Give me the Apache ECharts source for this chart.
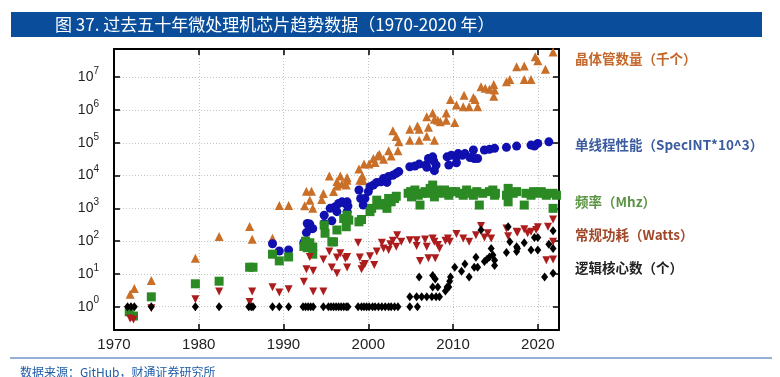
<!DOCTYPE html>
<html><head><meta charset="utf-8">
<script src="https://cdn.jsdelivr.net/npm/echarts@6/dist/echarts.min.js"></script>
<style>html,body{margin:0;padding:0;background:#fff}#c{width:780px;height:377px}</style>
</head><body><div id="c"></div>
<script>
// ---- Data (x = year, y = value, log scale) ----
const transYears = [1971.9,1972.4,1974.4,1979.6,1982.4,1986.0,1986.3,1988.7,1989.5,1990.6,1992.5,1992.7,1993.1,1993.3,1993.45,1994.5,1994.7,1995.4,1995.9,1996.3,1996.3,1996.7,1996.9,1997.4,1997.5,1997.5,1998.9,1999.0,1999.3,1999.4,1999.5,2000.1,2000.6,2000.8,2001.1,2001.3,2001.8,2002.4,2002.7,2002.9,2003.3,2003.5,2003.6,2004.9,2004.9,2005.8,2006.0,2006.0,2006.9,2006.9,2007.1,2007.6,2007.8,2007.8,2008.2,2008.5,2009.2,2009.2,2009.7,2010.2,2010.4,2011.2,2011.3,2011.9,2012.4,2012.6,2012.9,2013.3,2013.8,2014.3,2014.8,2014.8,2014.9,2016.3,2016.7,2017.5,2018.4,2018.4,2019.2,2019.7,2020.0,2020.9,2021.8];
const transVals = [2.4,3.6,6.3,30,138,282,115,123,1230,1230,1200,3310,1780,3310,1000,1860,2820,9770,3240,4790,6610,9770,5500,5130,7240,8710,15800,7240,9770,6920,22400,22400,33100,25100,39800,44700,31600,57500,39800,234000,155000,57500,107000,257000,120000,324000,257000,120000,617000,158000,295000,813000,525000,120000,490000,437000,813000,490000,2090000,417000,1410000,1260000,2820000,1260000,2400000,2090000,1260000,5130000,4570000,4270000,6030000,2630000,4070000,7240000,8510000,20900000,21900000,8510000,8510000,41700000,31600000,17400000,58900000];

const stYears = [1988.7,1989.5,1990.6,1992.4,1992.7,1992.8,1993.0,1993.1,1993.3,1993.45,1994.8,1994.8,1995.5,1995.7,1996.1,1996.3,1996.5,1996.9,1997.3,1997.5,1997.6,1997.5,1998.9,1999.1,1999.4,1999.6,2000.0,2000.2,2000.6,2001.0,2001.5,2001.8,2002.2,2002.4,2002.9,2003.3,2003.6,2004.9,2005.5,2006.0,2006.8,2006.9,2007.1,2007.6,2007.7,2007.8,2008.0,2009.3,2009.5,2009.8,2010.4,2010.4,2010.6,2011.1,2011.4,2012.0,2012.4,2012.5,2012.9,2013.7,2014.3,2014.9,2016.3,2017.5,2019.2,2019.6,2020.0,2021.3];
const stVals = [83,50,54,91,182,347,288,331,245,240,617,347,1000,417,1120,794,1410,1580,1410,1580,1170,794,3630,2000,1260,2000,3240,4570,5130,6170,6460,8130,6170,9330,10200,11700,13200,18600,19500,22400,20900,17800,33100,37200,28200,14100,20900,37200,20900,41700,37200,24500,46800,41700,46800,35500,60300,33100,33100,60300,63100,67600,72400,79400,85100,79400,95500,107000];

const freqYears = [1971.8,1972.3,1974.4,1979.6,1982.4,1986.0,1986.4,1988.7,1989.5,1990.6,1992.4,1992.6,1992.8,1993.1,1993.45,1993.45,1994.8,1994.9,1995.7,1995.9,1996.3,1997.1,1997.4,1997.5,1997.7,1998.9,1999.2,2000.2,2000.4,2001.0,2001.4,2001.8,2002.2,2002.4,2002.7,2003.1,2003.3,2004.7,2005.0,2005.1,2005.5,2005.9,2006.1,2006.3,2006.7,2007.1,2007.3,2007.6,2007.8,2008.0,2008.3,2008.6,2009.0,2009.5,2009.8,2010.3,2010.8,2011.2,2011.6,2012.2,2012.4,2012.8,2013.1,2013.5,2014.3,2014.7,2014.9,2015.0,2016.3,2016.5,2016.5,2017.1,2017.5,2018.4,2018.6,2019.2,2019.5,2019.8,2020.4,2020.8,2021.0,2021.8,2021.8,2022.2];
const freqVals = [0.7,0.52,2,5,6,16,16,40,25,33,69,100,63,89,66,40,309,174,95,95,219,490,275,617,437,389,457,794,1000,1780,1260,1410,1000,2000,1580,2000,2340,2880,3240,2240,3630,2510,1260,2880,3240,2880,4070,5130,2240,3630,3240,2880,3630,2510,3240,3240,2880,2510,3630,2880,2510,3240,1260,2880,3240,3630,2510,2880,2510,4070,1580,2880,3240,1260,2880,2510,3240,2880,3240,2880,2510,2880,1000,2510];

const powerYears = [1971.9,1972.3,1974.4,1979.6,1982.4,1986.0,1986.3,1988.7,1989.5,1990.6,1992.4,1992.7,1993.1,1993.5,1993.5,1994.7,1994.7,1995.4,1995.7,1996.3,1996.3,1996.7,1997.3,1997.5,1997.5,1998.8,1999.0,1999.2,1999.4,1999.6,2000.2,2000.7,2001.0,2001.6,2001.8,2002.4,2002.6,2002.9,2003.3,2003.4,2003.9,2004.9,2005.7,2005.7,2006.1,2006.7,2006.9,2007.1,2007.6,2007.8,2007.9,2008.2,2008.4,2009.1,2009.4,2009.6,2010.4,2011.2,2011.9,2012.7,2013.3,2013.7,2014.1,2014.5,2016.3,2016.5,2017.5,2017.6,2018.4,2018.8,2019.2,2019.8,2020.0,2021.0,2021.2,2021.8,2021.8,2021.8];
const powerVals = [0.44,0.41,0.9,1.7,2.9,1.4,2.9,3.9,2.7,3.4,5.8,13.8,33,12.6,2.9,2.9,27.5,47.9,15.8,10.5,31.6,42.7,29.5,33.1,15.8,89,31.6,13.8,17.4,20,34.7,18.6,47.9,89,60,54,81,102,68,151,95,107,107,71,25,112,68,30,120,95,30,76,60,102,120,95,166,120,95,151,288,129,174,120,245,141,195,182,229,174,195,219,263,26,275,27.5,95,457];

const coreYears = [1971.6,1972.0,1972.4,1974.4,1979.6,1982.4,1985.9,1986.2,1986.4,1988.7,1989.5,1990.6,1992.3,1992.6,1992.9,1993.2,1993.5,1994.7,1995.3,1995.6,1995.9,1996.2,1996.5,1996.8,1997.1,1997.4,1997.6,1998.8,1999.2,1999.5,1999.8,2000.1,2000.5,2000.8,2001.2,2001.6,2002.0,2002.4,2002.7,2003.1,2003.5,2004.9,2005.8,2004.9,2005.7,2006.3,2006.9,2007.5,2008.0,2008.4,2006.0,2007.6,2007.9,2007.6,2008.2,2009.1,2009.3,2009.5,2009.6,2009.7,2010.2,2011.0,2011.4,2011.9,2012.5,2012.9,2012.7,2013.3,2013.7,2014.0,2014.3,2014.5,2014.7,2014.9,2014.9,2016.3,2016.5,2016.7,2017.5,2017.5,2017.6,2018.4,2019.2,2020.0,2019.6,2020.0,2020.8,2021.3,2021.8,2021.8,2021.8];
const coreVals = [1,1,1,1,1,1,1,1,1,1,1,1,1,1,1,1,1,1,1,1,1,1,1,1,1,1,1,1,1,1,1,1,1,1,1,1,1,1,1,1,1,1,1,2,2,2,2,2,2,2,8,9,7,4,4,3,4,4,6,8,16,12,20,8,16,16,32,220,24,28,33,60,38,26,18,45,275,96,68,48,60,89,54,54,129,129,8,81,209,60,10.5];

const xTickLabels = ['1970','1980','1990','2000','2010','2020'];
const seriesNames = ['晶体管数量（千个）','单线程性能（SpecINT*10^3）','频率（Mhz）','常规功耗（Watts）','逻辑核心数（个）'];
const titleText = '图 37. 过去五十年微处理机芯片趋势数据（1970-2020 年）';
const sourceText = '数据来源：GitHub，财通证券研究所';

// ---- Chart ----
const chart = echarts.init(document.getElementById('c'), null, {renderer: 'canvas'});
const zip = (xs, ys) => xs.map((x, i) => [x, ys[i]]);
const yMin = Math.pow(10, -0.71), yMax = Math.pow(10, 7.86);
const frame = {show: true, onZero: false, lineStyle: {color: '#000', width: 2}};
const ticks = {show: true, inside: true, length: 6, lineStyle: {color: '#000', width: 1.5}};
const grid = {show: true, lineStyle: {color: '#c4c4c4', type: [1, 2], width: 1}};
const isPow = v => { const l = Math.log10(v); return Math.abs(l - Math.round(l)) < 1e-6; };

const colors = ['#c96f28', '#1010b0', '#2c8a24', '#ad1c1c', '#000000'];
const labelColors = ['#c4672a', '#3a5b9f', '#5a9444', '#a0492a', '#222222'];
const labelY = [59, 145, 202, 235, 268];

const option = {
  animation: false,
  grid: {left: 114, top: 49, right: 221, bottom: 47},
  xAxis: [
    {type: 'value', min: 1970, max: 2022.5, interval: 10, position: 'bottom',
     axisLine: frame, axisTick: ticks, splitLine: grid,
     axisLabel: {margin: 7, fontSize: 15, color: '#222', fontFamily: 'Liberation Sans',
       formatter: v => xTickLabels.includes(String(v)) ? String(v) : ''}},
    {type: 'value', min: 1970, max: 2022.5, interval: 10, position: 'top',
     axisLine: frame, axisTick: ticks, splitLine: {show: false}, axisLabel: {show: false}}
  ],
  yAxis: [
    {type: 'log', logBase: 10, min: yMin, max: yMax, position: 'left',
     axisLine: frame, axisTick: ticks, splitLine: grid, minorTick: {show: false},
     axisLabel: {margin: 15, color: '#222',
       formatter: v => isPow(v) ? '{b|10}{s|' + Math.round(Math.log10(v)) + '}' : '',
       rich: {b: {fontSize: 14, fontFamily: 'Liberation Sans', color: '#222'},
              s: {fontSize: 10, fontFamily: 'Liberation Sans', color: '#222', padding: [0, 0, 12, 0]}}}},
    {type: 'log', logBase: 10, min: yMin, max: yMax, position: 'right',
     axisLine: frame, axisTick: ticks, splitLine: {show: false}, axisLabel: {show: false}}
  ],
  series: [
    {name: seriesNames[0], type: 'scatter', data: zip(transYears, transVals), symbol: 'triangle', symbolSize: 9, itemStyle: {color: colors[0], opacity: 1}},
    {name: seriesNames[1], type: 'scatter', data: zip(stYears, stVals), symbol: 'circle', symbolSize: 9, itemStyle: {color: colors[1], opacity: 1}},
    {name: seriesNames[2], type: 'scatter', data: zip(freqYears, freqVals), symbol: 'rect', symbolSize: 9, itemStyle: {color: colors[2], opacity: 1}},
    {name: seriesNames[3], type: 'scatter', data: zip(powerYears, powerVals), symbol: 'triangle', symbolRotate: 180, symbolSize: 8, itemStyle: {color: colors[3], opacity: 1}},
    {name: seriesNames[4], type: 'scatter', data: zip(coreYears, coreVals), symbol: 'diamond', symbolSize: [7, 9], itemStyle: {color: colors[4], opacity: 1}}
  ],
  graphic: [
    {type: 'rect', shape: {x: 11, y: 12, width: 751, height: 25}, style: {fill: '#0a4e9b'}, silent: true},
    {type: 'text', x: 55, y: 24.5, style: {text: titleText, fill: '#fff', font: '17px "Noto Sans CJK SC"', verticalAlign: 'middle'}, silent: true},
    {type: 'line', shape: {x1: 10, y1: 358, x2: 772, y2: 358}, style: {stroke: '#2a64a8', lineWidth: 1}, silent: true},
    {type: 'text', x: 20, y: 372, style: {text: sourceText, fill: '#1f5ca6', font: '12px "Noto Sans CJK SC"', verticalAlign: 'middle'}, silent: true}
  ].concat(seriesNames.map((t, i) => ({
    type: 'text', x: 575, y: labelY[i],
    style: {text: t, fill: labelColors[i], font: 'bold 13.5px "Noto Sans CJK SC"', verticalAlign: 'middle'}, silent: true
  })))
};
chart.setOption(option);
</script>
</body></html>
